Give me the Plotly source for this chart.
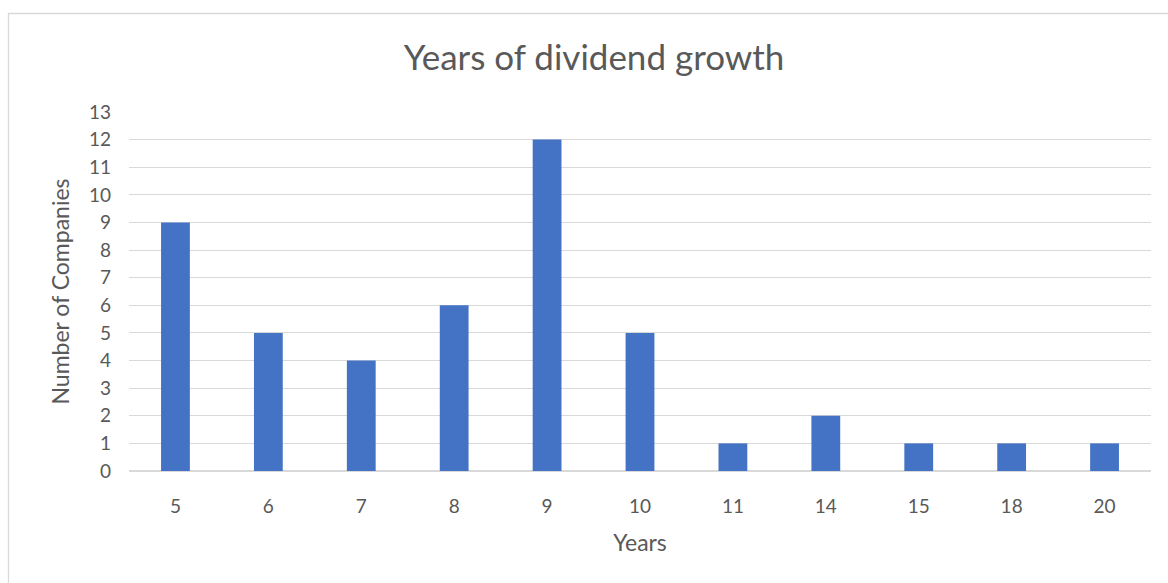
import plotly.graph_objects as go

years = ["5", "6", "7", "8", "9", "10", "11", "14", "15", "18", "20"]
companies = [9, 5, 4, 6, 12, 5, 1, 2, 1, 1, 1]
y_ticks = list(range(0, 14))

L, R, T, B = 129, 17, 112, 112
W, H = 1168, 583
pw, ph = W - L - R, H - T - B

fig = go.Figure(go.Bar(x=years, y=companies, marker=dict(color="#4472C4", line=dict(width=0)),
                       width=0.31))

font_family = "Lato, Calibri, 'Open Sans', sans-serif"
fig.update_layout(
    width=W, height=H,
    margin=dict(l=L, r=R, t=T, b=B),
    paper_bgcolor="white", plot_bgcolor="white",
    font=dict(family=font_family, color="#595959", size=19),
    showlegend=False,
    xaxis=dict(type="category", showgrid=False, zeroline=False, showline=False,
               ticks="", tickfont=dict(size=19, color="#595959"), ticklabelstandoff=22,
               title=dict(text="Years", font=dict(size=23, color="#595959"), standoff=18)),
    yaxis=dict(range=[0, 13], tickvals=y_ticks, showgrid=True, gridcolor="#D9D9D9", gridwidth=1,
               zeroline=True, zerolinecolor="#D9D9D9", showline=False, ticks="",
               tickfont=dict(size=19, color="#595959"), ticklabelstandoff=17,
               title=dict(text="Number of Companies", font=dict(size=23, color="#595959"), standoff=12)),
    title=dict(text="Years of dividend growth", x=594 / W, xanchor="center",
               y=1 - 58 / H, yanchor="middle", font=dict(size=35, color="#595959")),
    shapes=[dict(type="rect", xref="paper", yref="paper",
                 x0=(8.5 - L) / pw, x1=(1175 - L) / pw,
                 y0=-(600 - (T + ph)) / ph, y1=1 + (T - 13.5) / ph,
                 line=dict(color="#D9D9D9", width=1.3), fillcolor="rgba(0,0,0,0)", layer="below")],
)
fig.write_html("out.html")
